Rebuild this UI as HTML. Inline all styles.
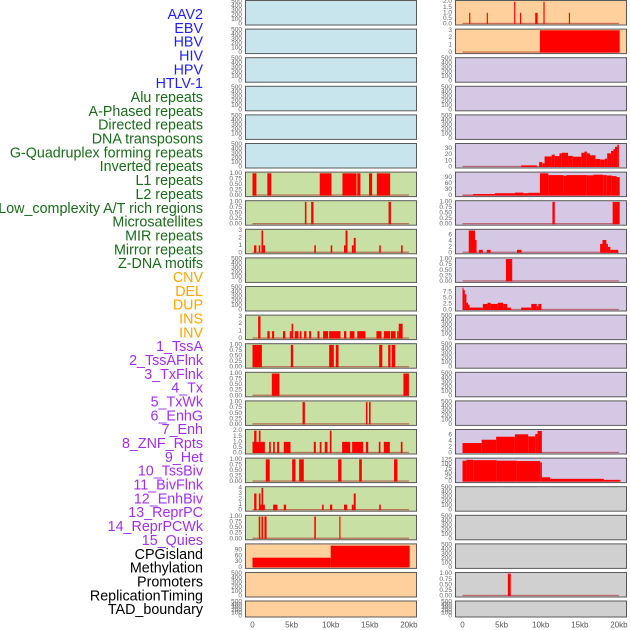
<!DOCTYPE html>
<html><head><meta charset="utf-8"><style>
html,body{margin:0;padding:0;background:#fff;width:630px;height:630px;overflow:hidden}
svg{display:block}
</style></head><body>
<svg id="chart" width="630" height="630" viewBox="0 0 630 630" xmlns="http://www.w3.org/2000/svg"></svg>
<script>
// ---- track labels ----
const trackLabels = ["AAV2","EBV","HBV","HIV","HPV","HTLV-1","Alu repeats","A-Phased repeats","Directed repeats","DNA transposons","G-Quadruplex forming repeats","Inverted repeats","L1 repeats","L2 repeats","Low_complexity A/T rich regions","Microsatellites","MIR repeats","Mirror repeats","Z-DNA motifs","CNV","DEL","DUP","INS","INV","1_TssA","2_TssAFlnk","3_TxFlnk","4_Tx","5_TxWk","6_EnhG","7_Enh","8_ZNF_Rpts","9_Het","10_TssBiv","11_BivFlnk","12_EnhBiv","13_ReprPC","14_ReprPCWk","15_Quies","CPGisland","Methylation","Promoters","ReplicationTiming","TAD_boundary"];
const labelGroups = ["virus","virus","virus","virus","virus","virus","rep","rep","rep","rep","rep","rep","rep","rep","rep","rep","rep","rep","rep","sv","sv","sv","sv","sv","hmm","hmm","hmm","hmm","hmm","hmm","hmm","hmm","hmm","hmm","hmm","hmm","hmm","hmm","hmm","oth","oth","oth","oth","oth"];
const xTicks = [0,5,10,15,20];
const xTickLabels = ["0","5kb","10kb","15kb","20kb"];

// ---- left column data: [startKb, endKb, value] ----
const L6 = [[0,0.5,1],[1.9,2.4,1],[8.6,10.1,1],[11.5,13.3,1],[13.4,13.8,1],[14.9,15.3,1],[15.9,17.6,1]];
const L7 = [[6.7,6.9,1],[7.5,7.8,1],[17.4,17.7,1]];
const L8 = [[0.2,0.5,1],[0.8,1.0,1],[1.15,1.35,3],[1.35,1.6,1],[7.9,8.1,1],[10.0,10.2,1],[11.7,11.9,1],[11.9,12.15,3],[12.7,12.95,1],[12.95,13.2,2],[16.2,16.4,1],[19.0,19.2,1]];
const L11 = [[0.72,1.02,3],[1.9,2.2,1],[2.5,2.77,1],[3.9,4.2,1],[4.77,4.98,1],[5.0,5.2,2],[5.4,5.88,1],[6.05,6.26,1],[6.6,6.9,1],[7.24,7.5,1],[8.31,8.56,1],[9.03,9.67,1],[9.8,11.25,1],[11.7,12.0,1],[12.44,13.04,1],[13.4,14.45,1],[15.85,16.5,1],[16.8,17.6,1],[17.7,18.3,1],[18.5,18.7,1],[18.7,19.2,2]];
const L12 = [[0,1.2,1],[4.9,5.2,1],[9.8,10.4,1],[10.65,11.0,1],[16.2,16.6,1],[17.35,17.65,1],[17.8,18.25,1]];
const L13 = [[2.47,3.45,1],[19.3,20.0,1]];
const L14 = [[6.4,6.7,1],[14.5,14.7,1],[14.9,15.1,1]];
const L15 = [[0,0.51,1],[0.21,0.51,2],[0.81,1.02,2],[0.51,1.58,1],[2.13,2.34,1],[2.64,2.85,1],[3.15,3.41,1],[4.0,4.86,1],[7.84,8.1,1],[8.6,8.82,1],[9.24,9.59,1],[9.89,10.1,2],[11.46,12.5,1],[12.74,14.15,1],[14.5,14.8,1],[16.15,16.36,1],[16.79,17.56,1],[18.97,19.18,1]];
const L16 = [[1.7,2.2,1],[5.07,5.5,1],[5.96,6.56,1],[10.95,11.38,1],[13.64,13.98,1],[18.1,18.54,1]];
const L17 = [[0.21,0.51,3],[0.81,1.02,3],[1.02,1.58,1],[1.15,1.36,4],[2.64,3.19,1],[4.0,4.3,1],[8.9,9.1,1],[9.9,10.2,1],[11.7,12.1,1],[12.7,12.95,1],[12.95,13.2,3],[16.2,16.4,1]];
const L18 = [[0.8,1.0,1],[1.15,1.36,1],[1.53,1.8,1],[7.9,8.1,1],[11.1,11.25,1]];
const L19 = [[0,10,50],[10,20.1,112]];

// ---- right column data ----
const R0 = [[0.85,1.0,1],[3.1,3.25,1],[6.6,6.75,2],[7.35,7.5,1],[9.3,9.6,1],[10.35,10.5,2],[13.6,13.75,1]];
const R1 = [[9.9,20.1,3]];
const R5 = [[7.5,9.5,2.6],[9.8,10.2,8],[10.2,10.5,6],[10.5,11.4,17],[11.4,11.8,20],[11.8,12.4,17.6],[12.4,12.7,22],[12.7,13.5,23],[13.5,14.1,18],[14.1,15.2,16.6],[15.2,15.6,23],[15.6,15.9,25],[15.9,16.3,22],[16.3,17.0,19],[17.0,17.6,13],[17.6,18.2,12],[18.2,18.5,13.5],[18.5,19.0,22],[19.0,19.3,26],[19.3,19.5,29],[19.5,19.8,32.6],[19.8,20.0,36]];
const R6 = [[0,1.36,2],[1.36,4.14,8],[4.14,6.7,12],[6.7,7.77,15],[7.77,8.4,12],[8.4,9.9,14],[9.9,10.98,112],[10.98,12.9,103],[12.9,13.3,100],[13.3,15.9,103],[15.9,16.75,102],[16.75,18.0,105],[18.0,18.45,103],[18.45,19.1,101],[19.1,19.7,98],[19.7,20.1,93]];
const R7 = [[11.5,11.8,1],[19.2,20.1,1]];
const R8 = [[0.8,1.6,7.5],[1.6,1.8,4.3],[2.1,2.6,1],[3.1,3.6,1],[6.97,7.56,1],[17.6,17.9,3],[17.9,18.4,4.3],[18.4,18.6,3],[18.6,18.9,2],[18.9,19.9,1]];
const R9 = [[5.55,6.36,1]];
const R10 = [[0,0.1,9.2],[0.1,0.3,8.2],[0.3,0.5,6.5],[0.5,0.7,3],[0.7,0.9,2.2],[0.9,2.6,1],[2.6,3.2,2.5],[3.2,3.6,3],[3.6,4.5,2.5],[4.5,5.2,3],[5.2,5.7,2.5],[5.7,6.2,1],[7.5,8.8,1],[8.8,9.5,2.5],[9.5,9.7,1.5],[9.7,10.1,2.5]];
const R15 = [[0,2.45,3.3],[2.45,4.3,4.4],[4.3,6.7,5.4],[6.7,8.4,6.2],[8.4,9.3,5.5],[9.3,9.6,6.3],[9.6,10.15,7.3]];
const R16 = [[0,0.5,120],[0.5,1.37,125],[1.37,4.37,123],[4.37,6.94,120],[6.94,9.94,118],[9.94,10.15,110],[10.15,11.2,25],[11.2,18.07,16],[18.07,20.2,10]];
const R20 = [[5.8,6.17,1]];

// ---- tick label sets ----
const T500 = ["0","100","200","300","400","500"];
const T1 = ["0.00","0.25","0.50","0.75","1.00"];
const T2 = ["0.0","0.5","1.0","1.5","2.0"];
const T3 = ["0","1","2","3"];
const T4 = ["0","1","2","3","4"];
const T90 = ["0","30","60","90"];
const T30 = ["0","10","20","30"];
const T6 = ["0","2","4","6"];
const T75 = ["0.0","2.5","5.0","7.5"];
const T125 = ["0","25","50","75","100","125"];

const leftPanels = [null,null,null,null,null,null,[L6,T1,1],[L7,T1,1],[L8,T3,3],null,null,[L11,T3,3],[L12,T1,1],[L13,T1,1],[L14,T1,1],[L15,T2,2],[L16,T1,1],[L17,T4,4],[L18,T1,1],[L19,T90,115],null,null];
const rightPanels = [[R0,T2,2],[R1,T3,3],null,null,null,[R5,T30,36],[R6,T90,112],[R7,T1,1],[R8,T6,7.5],[R9,T1,1],[R10,T75,9.2],null,null,null,null,[R15,T6,7.4],[R16,T125,128],null,null,null,[R20,T1,1],null];
const leftBg = ["#c8e4ec","#c8e4ec","#c8e4ec","#c8e4ec","#c8e4ec","#c8e4ec","#c8e0a4","#c8e0a4","#c8e0a4","#c8e0a4","#c8e0a4","#c8e0a4","#c8e0a4","#c8e0a4","#c8e0a4","#c8e0a4","#c8e0a4","#c8e0a4","#c8e0a4","#ffd09c","#ffd09c","#ffd09c"];
const rightBg = ["#ffd09c","#ffd09c","#d4c8e4","#d4c8e4","#d4c8e4","#d4c8e4","#d4c8e4","#d4c8e4","#d4c8e4","#d4c8e4","#d4c8e4","#d4c8e4","#d4c8e4","#d4c8e4","#d4c8e4","#d4c8e4","#d4c8e4","#d0d0d0","#d0d0d0","#d0d0d0","#d0d0d0","#d0d0d0"];

const NS = "http://www.w3.org/2000/svg";
const svg = document.getElementById('chart');
function mk(tag, attrs, parent) {
  const e = document.createElementNS(NS, tag);
  for (const k in attrs) e.setAttribute(k, attrs[k]);
  (parent || svg).appendChild(e);
  return e;
}
const groupColor = {virus:"#1f1fff", rep:"#1a6b1a", sv:"#ffa500", hmm:"#a030f0", oth:"#000"};

trackLabels.forEach((t, i) => {
  const el = mk('text', {x:203, y:15 + i * 13.84, 'text-anchor':'end', 'dominant-baseline':'central', 'font-family':'Liberation Sans, sans-serif', 'font-size':'14.3', fill: groupColor[labelGroups[i]]});
  
  
  el.textContent = t;
});

function rowGeom(i) {
  if (i < 21) return {top: i * 28.6 + 0.5, h: 24.5};
  return {top: 601, h: 16};
}
const colX = [245, 455];
const panelW = 171;
function xScale(col, kb) { return colX[col] + 7.5 + kb * 7.82; }

function drawPanel(col, i, spec, bg) {
  const g = rowGeom(i);
  const grp = mk('g', {});
  
  
  const bgR = mk('rect', {x:colX[col] + 0.5, y:g.top, width:panelW, height:g.h, fill:bg, stroke:'#5a5a5a', 'stroke-width':1}, grp);
  
  
  const ticks = spec ? spec[1] : T500;
  const n = ticks.length - 1;
  const bottom = g.top + g.h - 1;
  const usable = g.h - 2.2;
  const M = spec ? spec[2] : 500;
  const tickMax = spec ? parseFloat(ticks[n]) : 500;
  function yScale(v) { return bottom - v / M * usable; }
  ticks.forEach((t, k) => {
    const v = tickMax * k / n;
    const y = spec ? yScale(v) : bottom - (k / n) * (g.h - 2);
    const tl = mk('text', {x:colX[col] - 3, y:y, 'text-anchor':'end', 'dominant-baseline':'central', 'font-family':'Liberation Sans, sans-serif', 'font-size':'6.5', fill:'#666'}, grp);
    
    
    tl.textContent = t;
  });
  if (spec) {
    const base = mk('rect', {x:xScale(col, 0), y:bottom - 1.2, width:xScale(col, 20) - xScale(col, 0), height:1.3, fill:'rgba(170,30,30,0.55)'}, grp);
    
    
    spec[0].forEach(d => {
      const x1 = xScale(col, Math.max(0, d[0]));
      const x2 = xScale(col, d[1]);
      const y = yScale(d[2]);
      const b = mk('rect', {x:x1, y:y, width:Math.max(1, x2 - x1), height:bottom - y, fill:'#ff0000'}, grp);
      
      
    });
  }
}
for (let i = 0; i < 22; i++) {
  drawPanel(0, i, leftPanels[i], leftBg[i]);
  drawPanel(1, i, rightPanels[i], rightBg[i]);
}
[0, 1].forEach(col => {
  xTicks.forEach((v, k) => {
    const t = mk('text', {x:xScale(col, v), y:625, 'text-anchor':'middle', 'dominant-baseline':'central', 'font-family':'Liberation Sans, sans-serif', 'font-size':'8', fill:'#555'});
    
    
    t.textContent = xTickLabels[k];
  });
});
</script>
</body></html>
